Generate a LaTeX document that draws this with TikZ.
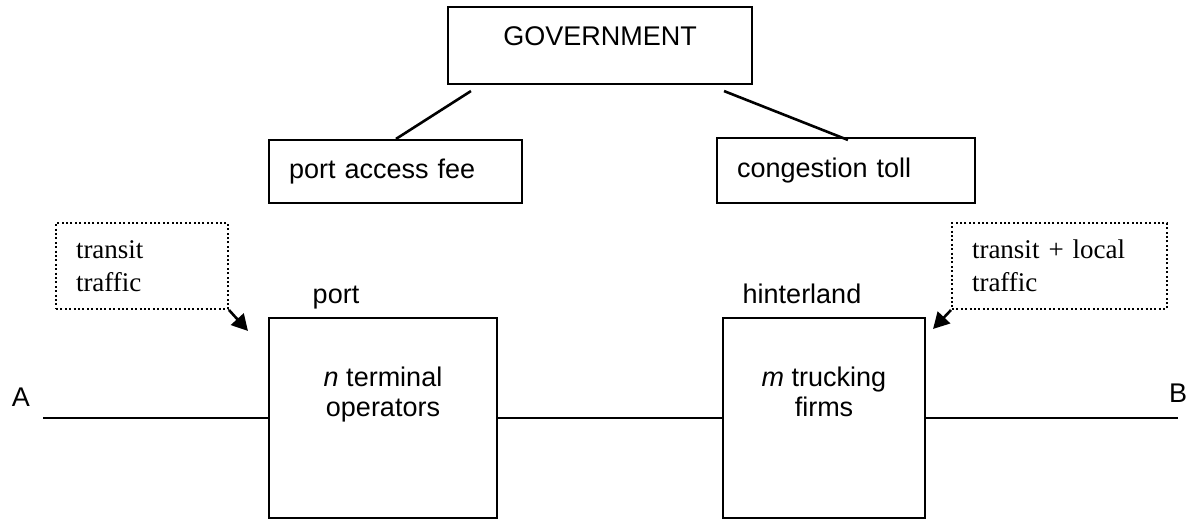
\documentclass[tikz,border=0pt]{standalone}
\usepackage{fontspec}
\setmainfont{Liberation Sans}
\newfontfamily\timesface{Liberation Serif}
\usetikzlibrary{arrows.meta}
\begin{document}
\begin{tikzpicture}[x=1pt, y=-1pt, font=\fontsize{27}{30}\selectfont,
  box/.style={draw, line width=2.1pt, inner sep=0pt},
  note/.style={draw, line width=2pt, dash pattern=on 2pt off 2.4pt, font=\timesface\fontsize{27}{32.5}\selectfont, align=left, inner xsep=20pt, inner ysep=0pt, minimum height=86pt},
  road/.style={line width=2.6pt},
  feed/.style={line width=2.6pt, -{Triangle[length=16pt, width=17pt]}}]
\useasboundingbox (0,0) rectangle (1192,520);
\node[box, minimum width=304pt, text height=38.7pt, text depth=38.3pt] (gov) at (600,45.5){GOVERNMENT};
\node[box, text width=213pt, inner xsep=20pt, minimum height=63pt, align=left] (fee) at (395.5,171.5){port access fee};
\node[box, text width=218pt, inner xsep=20pt, minimum height=65pt, align=left] (toll) at (846,170.5){congestion toll};
\draw[road]([shift={(24,6)}]gov.south west) -- ([shift={(128,0)}]fee.north west);
\draw[road]([shift={(-29,6)}]gov.south east) -- ([shift={(132,3)}]toll.north west);
\node[note, text width=132pt] (trans0) at (142,266){transit\\traffic};
\node[note, text width=175pt] (trans1) at (1059.5,266){transit + local\\traffic};
\node[box, minimum width=228pt, minimum height=200pt] (port) at (383,418){};
\node[box, minimum width=202pt, minimum height=200pt] (hint) at (824,418){};
\node[anchor=base] (lblport) at (336,303){port};
\node[anchor=base] (lblhint) at (802,303){hinterland};
\node[align=center] (infport) at (383,395){\textit{n} terminal\\operators};
\node[align=center] (infhint) at (824,392){\textit{m} trucking\\firms};
\node (nA) at (21,397){A};
\node (nB) at (1178,393){B};
\coordinate (roadA) at (43,418);
\coordinate (roadB) at (1178,418);
\draw[road](roadA) -- (port.west);
\draw[road](port.east) -- (hint.west);
\draw[road](hint.east) -- (roadB);
\draw[feed](trans0.south east) -- ([shift={(-20,14)}]port.north west);
\draw[feed](trans1.south west) -- ([shift={(7,12)}]hint.north east);
\end{tikzpicture}
\end{document}
